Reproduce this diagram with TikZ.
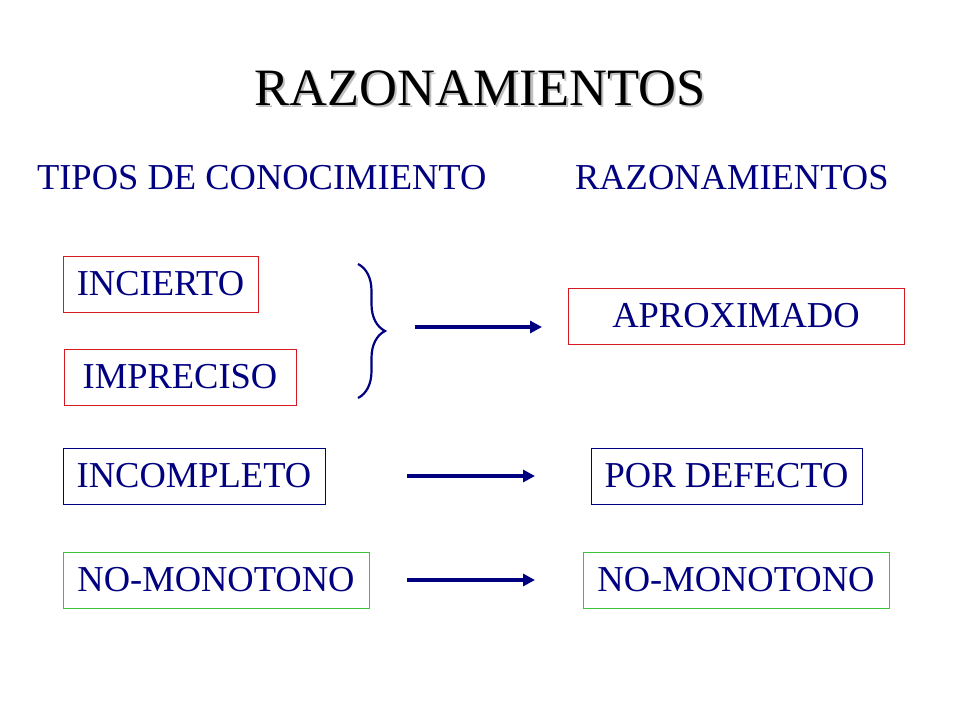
\documentclass[tikz,border=0pt]{standalone}
\usepackage{fontspec}
\setmainfont{Liberation Serif}
\usetikzlibrary{positioning,calc,arrows.meta,decorations.pathreplacing}
\definecolor{navy}{RGB}{0,0,128}
\definecolor{boxred}{RGB}{215,25,35}
\definecolor{boxgreen}{RGB}{60,195,60}

\begin{document}
\begin{tikzpicture}[x=1pt,y=1pt,
				every node/.style={text=navy,font=\fontsize{36.5}{40}\selectfont,inner sep=0pt,outer sep=0pt},
				block/.style={draw,rectangle,line width=1pt,minimum height=56pt,anchor=west},
				redblock/.style={block,draw=boxred},
				blueblock/.style={block,draw=navy},
				greenblock/.style={block,draw=boxgreen},
				titletext/.style={font=\fontsize{52.5}{60}\selectfont,anchor=base},
				arrow/.style={draw=navy,line width=4pt,-{Triangle[length=12pt,width=12pt]}}]
				\useasboundingbox (0,0) rectangle (960,-720);
				\node (SHADOW) [titletext,text=black!25] at (482.5,-107.5) {RAZONAMIENTOS};
				\node (TITLE)  [titletext,text=black]    at (480,-105) {RAZONAMIENTOS};
				\node (KNOW)   [anchor=base west] at (37,-189)  {TIPOS DE CONOCIMIENTO};
				\node (REAS)   [anchor=base west] at (575,-189) {RAZONAMIENTOS};
				
				\node (INC) [redblock,minimum width=195pt] at (63,-284) {INCIERTO};
				\node (IMP) [redblock,minimum width=232pt,below=37pt of INC.south west,anchor=north west,xshift=1pt] {IMPRECISO};
				\node (ICP) [blueblock,minimum width=262pt,below=43pt of IMP.south west,anchor=north west,xshift=-1pt] {INCOMPLETO};
				\node (NML) [greenblock,minimum width=306pt,below=48pt of ICP.south west,anchor=north west] {NO-MONOTONO};
				\node (APR) [redblock,minimum width=336pt] at (568,-316) {APROXIMADO};
				\node (DEF) [blueblock,minimum width=271pt,right=266pt of ICP] {POR DEFECTO};
				\node (NMR) [greenblock,minimum width=306pt,right=214pt of NML] {NO-MONOTONO};
				
				\coordinate (BTOP) at (358,-264);
				\coordinate (BBOT) at (358,-398);
				\coordinate (ASTART) at (415,-327);
				\draw[navy,line width=2.2pt,decorate,decoration={brace,amplitude=27pt}] (BTOP) -- (BBOT);
				\draw[arrow,shorten >=26pt] (ASTART) -- (ASTART -| APR.west);
				\draw[arrow,shorten <=82pt,shorten >=56pt] (ICP.east) -- (DEF.west);
				\draw[arrow,shorten <=38pt,shorten >=48pt] (NML.east) -- (NMR.west);
			\end{tikzpicture}
\end{document}
